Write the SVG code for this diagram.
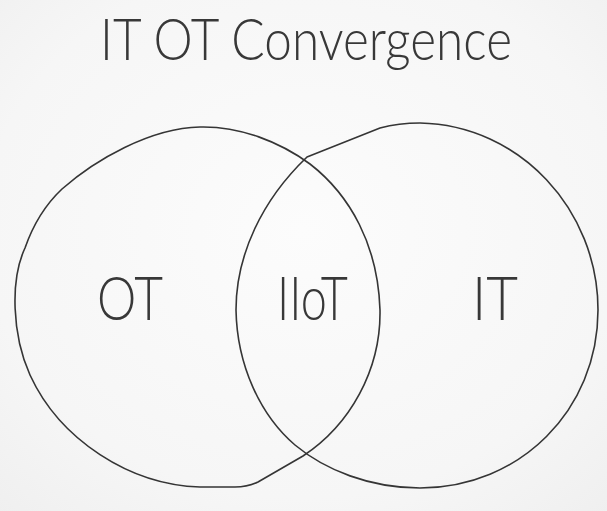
<svg xmlns="http://www.w3.org/2000/svg" width="607" height="511" viewBox="0 0 607 511">
<defs>
<radialGradient id="paper" cx="50%" cy="45%" r="75%">
<stop offset="0" stop-color="#fcfcfc"/>
<stop offset="0.7" stop-color="#f6f6f6"/>
<stop offset="1" stop-color="#efefef"/>
</radialGradient>
<style>
.ring{fill:none;stroke:#353535;stroke-width:1.6;stroke-linejoin:round}
.hand{font-family:"Lato","Open Sans","Liberation Sans",sans-serif;font-weight:300;fill:#383838}
.lbl{font-size:61px}
.title{font-size:57px}
</style>
</defs>
<rect width="607" height="511" fill="url(#paper)"/>
<g id="title">
<text class="hand title" x="100" y="60" textLength="412" lengthAdjust="spacingAndGlyphs">IT OT Convergence</text>
</g>
<g id="node-ot">
<path class="ring" d="M200,127 C240,126 280,142 310,164 C350,195 378,245 380,310 C381,370 350,425 303,456 L258,482 C250,486 245,487 235,487 L200,487 C130,485 60,440 30,375 C12,335 10,280 25,248 C33,225 45,205 62,189 C95,160 150,128 200,127 Z"/>
<text class="hand lbl" x="97" y="320" textLength="66" lengthAdjust="spacingAndGlyphs">OT</text>
</g>
<g id="node-it">
<path class="ring" d="M307,157 L380,128 C395,124 405,123 420,123 C520,125 598,210 598,310 C598,410 520,488 420,488 C370,488 325,470 295,445 C260,415 237,365 236,310 C236,255 262,200 307,157 Z"/>
<text class="hand lbl" x="472" y="320" textLength="46" lengthAdjust="spacingAndGlyphs">IT</text>
</g>
<g id="node-iiot">
<text class="hand lbl" x="277" y="320" textLength="71" lengthAdjust="spacingAndGlyphs">IIoT</text>
</g>
<g id="connectors"/>
</svg>
